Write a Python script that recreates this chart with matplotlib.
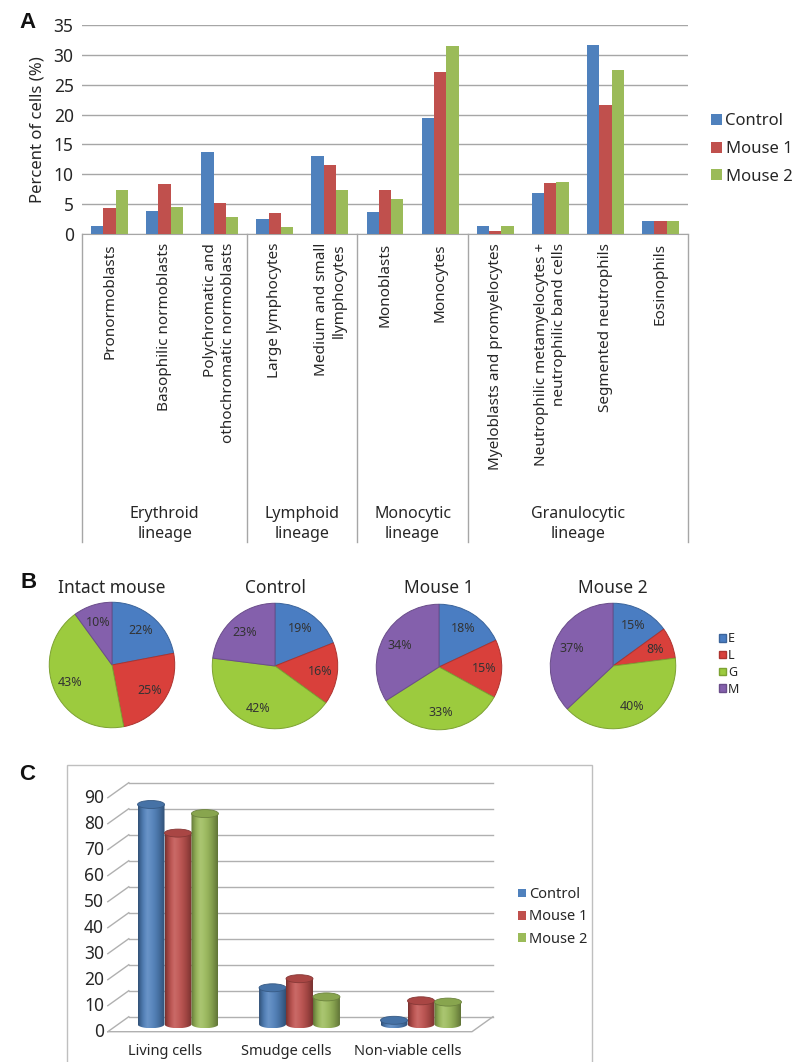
import numpy as np
import matplotlib
matplotlib.use("Agg")
import matplotlib.pyplot as plt
from matplotlib.patches import Rectangle, Ellipse, Polygon, Patch
from matplotlib.lines import Line2D
from matplotlib.colors import to_rgb

plt.rcParams["font.family"] = ["Noto Sans", "DejaVu Sans"]
TXT = "#262626"

# ---- panel A: cell counts per category -------------------------------------
categories = [
    "Pronormoblasts",
    "Basophilic normoblasts",
    "Polychromatic and\nothochromatic normoblasts",
    "Large lymphocytes",
    "Medium and small\nllymphocytes",
    "Monoblasts",
    "Monocytes",
    "Myeloblasts and promyelocytes",
    "Neutrophilic metamyelocytes +\nneutrophilic band cells",
    "Segmented neutrophils",
    "Eosinophils",
]
lineages = ["Erythroid\nlineage", "Lymphoid\nlineage", "Monocytic\nlineage", "Granulocytic\nlineage"]
lineage_sizes = [3, 2, 2, 4]
series = ["Control", "Mouse 1", "Mouse 2"]
control = [1.4, 3.8, 13.7, 2.5, 13.1, 3.7, 19.4, 1.4, 6.9, 31.7, 2.2]
mouse1 = [4.4, 8.3, 5.2, 3.5, 11.6, 7.4, 27.2, 0.5, 8.5, 21.6, 2.2]
mouse2 = [7.3, 4.6, 2.8, 1.2, 7.4, 5.9, 31.4, 1.3, 8.7, 27.5, 2.2]

# ---- panel B: lineage shares ----------------------------------------------
pie_titles = ["Intact mouse", "Control", "Mouse 1", "Mouse 2"]
pie_keys = ["E", "L", "G", "M"]
pie_intact = [22, 25, 43, 10]
pie_control = [19, 16, 42, 23]
pie_mouse1 = [18, 15, 33, 34]
pie_mouse2 = [15, 8, 40, 37]

# ---- panel C: viability ---------------------------------------------------
viab_groups = ["Living cells", "Smudge cells", "Non-viable cells"]
viab_control = [84.5, 14, 1.5]
viab_mouse1 = [73.5, 17.5, 9]
viab_mouse2 = [81, 10.5, 8.5]
viab_ticks = list(range(0, 100, 10))

bar_colors = ["#4F81BD", "#C0504D", "#9BBB59"]
pie_colors = ["#4A7DC2", "#D9403B", "#9CCB3E", "#8460AC"]

W, H = 793, 1062
fig = plt.figure(figsize=(W / 100, H / 100), dpi=100)


def fx(x):
    return x / W


def fy(y):
    return 1 - y / H


def px_axes(x0, y0, x1, y1):
    return fig.add_axes([fx(x0), fy(y1), (x1 - x0) / W, (y1 - y0) / H])


# =============================== A ==========================================
axA = px_axes(82, 25, 688, 234)
n = len(categories)
x = np.arange(n)
bw = 0.223
for j, (vals, col, name) in enumerate(zip([control, mouse1, mouse2], bar_colors, series)):
    axA.bar(x + (j - 1) * bw, vals, bw, color=col, label=name, zorder=3)
axA.set_xlim(-0.5, n - 0.5)
axA.set_ylim(0, 35)
axA.set_yticks(range(0, 36, 5))
axA.set_xticks([])
axA.grid(axis="y", color="#A6A6A6", linewidth=1, zorder=0)
axA.tick_params(axis="y", length=0, labelsize=12.5, labelcolor=TXT, pad=6)
for s in ["top", "right", "left"]:
    axA.spines[s].set_visible(False)
axA.spines["bottom"].set_color("#A6A6A6")
axA.set_ylabel("Percent of cells (%)", fontsize=12, color=TXT, labelpad=6)

tr = axA.get_xaxis_transform()
axh = 234 - 25
for i, lab in enumerate(categories):
    axA.text(i, -(243 - 234) / axh, lab, rotation=90, ha="center", va="top",
             multialignment="right", fontsize=11, color=TXT, transform=tr,
             linespacing=1.25)
# lineage separators and names
bounds = np.concatenate([[0], np.cumsum(lineage_sizes)]) - 0.5
y_bot = -(542 - 234) / axh
for b in bounds:
    axA.add_line(Line2D([b, b], [0, y_bot], transform=tr, color="#A6A6A6",
                        lw=1, clip_on=False))
for k, lab in enumerate(lineages):
    mid = (bounds[k] + bounds[k + 1]) / 2
    axA.text(mid, -(524 - 234) / axh, lab, ha="center", va="center",
             fontsize=11.5, color=TXT, transform=tr, linespacing=1.25)

fig.legend(*axA.get_legend_handles_labels(), loc="center left",
           bbox_to_anchor=(fx(703), fy(149)), frameon=False, fontsize=12,
           handlelength=0.65, handleheight=0.65, handletextpad=0.2,
           labelspacing=0.7, borderpad=0, labelcolor=TXT)

# =============================== B ==========================================
pie_data = [pie_intact, pie_control, pie_mouse1, pie_mouse2]
pie_centers = [(112, 665), (275, 666), (439, 667), (613, 666)]
r = 64
for title, vals, (cx, cy) in zip(pie_titles, pie_data, pie_centers):
    ax = px_axes(cx - r, cy - r, cx + r, cy + r)
    wedges, _, autotexts = ax.pie(
        vals, colors=pie_colors, startangle=90, counterclock=False,
        autopct="%d%%", pctdistance=0.72, radius=1,
        textprops=dict(fontsize=9, color="#333333"))
    # darker rim for a bit of depth
    for w, c in zip(wedges, pie_colors):
        w.set_edgecolor(tuple(v * 0.8 for v in to_rgb(c)))
        w.set_linewidth(0.7)
    ax.set_xlim(-1.02, 1.02)
    ax.set_ylim(-1.02, 1.02)
    fig.text(fx(cx), fy(588), title, ha="center", va="center", fontsize=12.5,
             color=TXT)

fig.legend([Patch(facecolor=c, edgecolor=tuple(v * 0.8 for v in to_rgb(c)))
            for c in pie_colors], pie_keys,
           loc="center left", bbox_to_anchor=(fx(713), fy(664)), frameon=False,
           fontsize=9, handlelength=0.55, handleheight=0.55, handletextpad=0.15,
           labelspacing=0.3, borderpad=0, labelcolor=TXT)

# =============================== C ==========================================
fig.add_artist(Rectangle((fx(67), fy(1075)), (592 - 67) / W, (1075 - 765) / H,
                         transform=fig.transFigure, fill=False,
                         edgecolor="#BFBFBF", lw=1))

axC = px_axes(67, 765, 592, 1062)
axC.set_axis_off()
gx0, gdx = 178, 121.5        # px of first group centre and group spacing
y0px, ppu = 1024.2, 2.6      # px of value 0 (mid depth) and px per unit
xlim = ((67 - gx0) / gdx, (592 - gx0) / gdx)
ylim = ((y0px - 1062) / ppu, (y0px - 765) / ppu)
DX, DY = 21 / gdx, 15 / ppu
xl_b, xr_b = (128.8 - gx0) / gdx, (493 - gx0) / gdx
xl_f, xr_f = xl_b - DX, xr_b - DX
grid_c = "#B0B0B0"
for v in viab_ticks:
    axC.plot([xl_b, xr_b], [v + DY / 2, v + DY / 2], color=grid_c, lw=1, zorder=1)
    axC.plot([xl_f, xl_b], [v - DY / 2, v + DY / 2], color=grid_c, lw=1, zorder=1)
    axC.text(-0.609, v - DY / 2, str(v), ha="right", va="center", fontsize=12.5,
             color=TXT)
axC.plot([xl_f, xr_f, xr_b], [-DY / 2, -DY / 2, DY / 2], color=grid_c, lw=1, zorder=1)

cw = 0.222
eh = 8 / ppu


def shade(base, t):
    base = np.array(to_rgb(base))
    out = []
    for tt in t:
        if tt < 0.35:
            k = (0.35 - tt) / 0.35
        else:
            k = (tt - 0.35) / 0.65
        light = 0.15 * (1 - k) ** 2
        dark = 0.38 * k ** 2
        c = base * (1 - dark)
        c = c + (1 - c) * light
        out.append(c)
    return np.array(out)


def cylinder(ax, xc, h, color, z):
    xa, xb = xc - cw / 2, xc + cw / 2
    # body outline: top edge, left side down, bottom half ellipse, right side up
    th = np.linspace(0, np.pi, 40)
    bottom = np.column_stack([xc - cw / 2 * np.cos(th), -eh / 2 * np.sin(th)])
    verts = np.vstack([[[xa, h]], bottom, [[xb, h]]])
    body = Polygon(verts, closed=True, facecolor="none", edgecolor="none")
    ax.add_patch(body)
    grad = shade(color, np.linspace(0, 1, 64))[None, :, :]
    im = ax.imshow(grad, extent=[xa, xb, -eh / 2, h], aspect="auto",
                   interpolation="bilinear", zorder=z)
    im.set_clip_path(body)
    base = np.array(to_rgb(color))
    top = Ellipse((xc, h), cw, eh, facecolor=base * 0.88,
                  edgecolor=base * 0.7, lw=0.6, zorder=z + 0.01)
    ax.add_patch(top)


for j, vals in enumerate([viab_control, viab_mouse1, viab_mouse2]):
    for i, v in enumerate(vals):
        cylinder(axC, i + (j - 1) * cw, v, bar_colors[j], 3 + i * 3 + j)

for i, lab in enumerate(viab_groups):
    axC.text(i - DX / 2 - 0.02, (y0px - 1051.7) / ppu, lab, ha="center",
             va="center", fontsize=10.5, color=TXT)
axC.set_xlim(*xlim)
axC.set_ylim(*ylim)

fig.legend([Patch(facecolor=c) for c in bar_colors], series, loc="center left",
           bbox_to_anchor=(fx(511), fy(917)), frameon=False, fontsize=10.5,
           handlelength=0.55, handleheight=0.55, handletextpad=0.2,
           labelspacing=0.5, borderpad=0, labelcolor=TXT)

# panel letters
for letter, (lx, ly) in zip("ABC", [(19, 22), (21, 583), (19, 775)]):
    fig.text(fx(lx), fy(ly), letter, fontsize=16, fontweight="bold",
             family=["Liberation Sans", "DejaVu Sans"],
             ha="left", va="center", color="#111111")

fig.savefig("out.png", dpi=100)
